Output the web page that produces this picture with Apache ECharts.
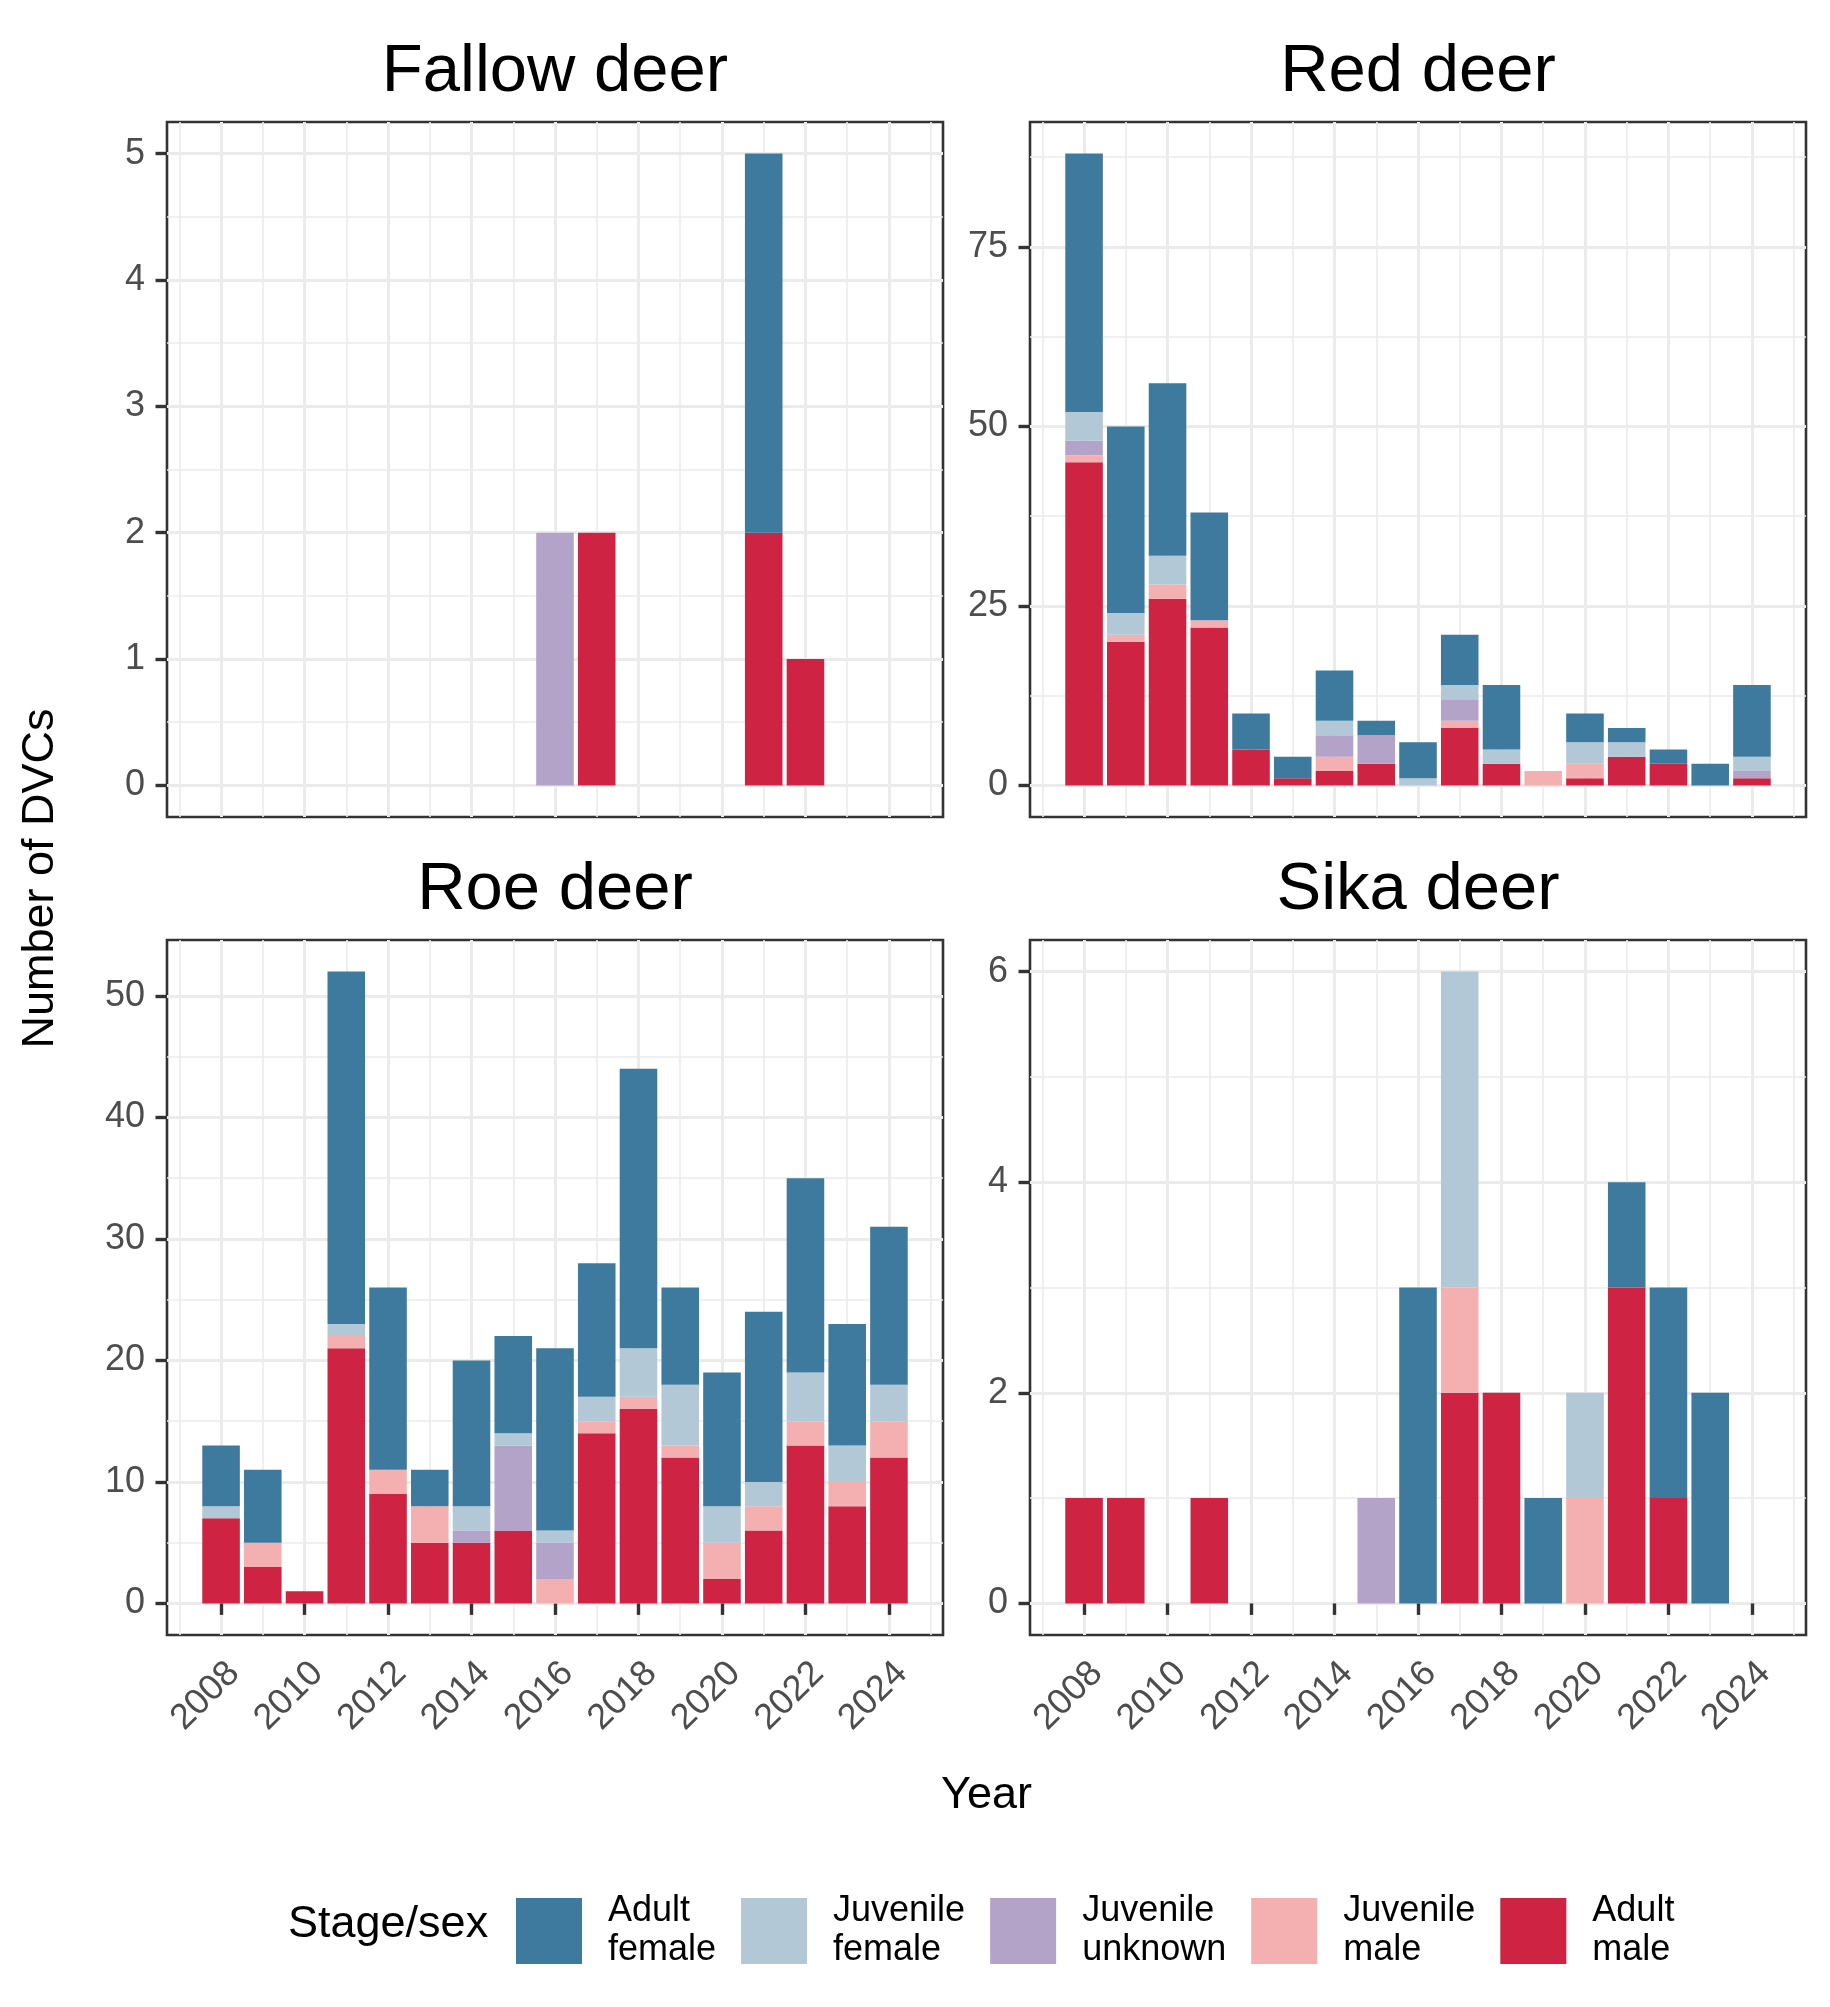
<!DOCTYPE html>
<html>
<head>
<meta charset="utf-8">
<script src="https://cdn.jsdelivr.net/npm/echarts@6/dist/echarts.min.js"></script>
<style>
html,body{margin:0;padding:0;background:#fff;}
#chart{width:1830px;height:2007px;}
</style>
</head>
<body>
<div id="chart"></div>
<script>
// ---------- data ----------
const years = [2008,2009,2010,2011,2012,2013,2014,2015,2016,2017,2018,2019,2020,2021,2022,2023,2024];
const xTickLabels = [2008,2010,2012,2014,2016,2018,2020,2022,2024];
const xMinorBreaks = [2007,2009,2011,2013,2015,2017,2019,2021,2023,2025];

const classNames = ['Adult female','Juvenile female','Juvenile unknown','Juvenile male','Adult male'];
const classColors = ['#3D7A9E','#B2C8D6','#B3A3C9','#F4B0B0','#CF2343'];

// Fallow deer
const fallowAdultMale       = [0,0,0,0,0,0,0,0,0,2,0,0,0,2,1,0,0];
const fallowJuvenileMale    = [0,0,0,0,0,0,0,0,0,0,0,0,0,0,0,0,0];
const fallowJuvenileUnknown = [0,0,0,0,0,0,0,0,2,0,0,0,0,0,0,0,0];
const fallowJuvenileFemale  = [0,0,0,0,0,0,0,0,0,0,0,0,0,0,0,0,0];
const fallowAdultFemale     = [0,0,0,0,0,0,0,0,0,0,0,0,0,3,0,0,0];
const fallowYTicks = [0,1,2,3,4,5];
const fallowYMinor = [0.5,1.5,2.5,3.5,4.5];

// Red deer
const redAdultMale       = [45,20,26,22,5,1,2,3,0,8,3,0,1,4,3,0,1];
const redJuvenileMale    = [1,1,2,1,0,0,2,0,0,1,0,2,2,0,0,0,0];
const redJuvenileUnknown = [2,0,0,0,0,0,3,4,0,3,0,0,0,0,0,0,1];
const redJuvenileFemale  = [4,3,4,0,0,0,2,0,1,2,2,0,3,2,0,0,2];
const redAdultFemale     = [36,26,24,15,5,3,7,2,5,7,9,0,4,2,2,3,10];
const redYTicks = [0,25,50,75];
const redYMinor = [12.5,37.5,62.5,87.5];

// Roe deer
const roeAdultMale       = [7,3,1,21,9,5,5,6,0,14,16,12,2,6,13,8,12];
const roeJuvenileMale    = [0,2,0,1,2,3,0,0,2,1,1,1,3,2,2,2,3];
const roeJuvenileUnknown = [0,0,0,0,0,0,1,7,3,0,0,0,0,0,0,0,0];
const roeJuvenileFemale  = [1,0,0,1,0,0,2,1,1,2,4,5,3,2,4,3,3];
const roeAdultFemale     = [5,6,0,29,15,3,12,8,15,11,23,8,11,14,16,10,13];
const roeYTicks = [0,10,20,30,40,50];
const roeYMinor = [5,15,25,35,45];

// Sika deer
const sikaAdultMale       = [1,1,0,1,0,0,0,0,0,2,2,0,0,3,1,0,0];
const sikaJuvenileMale    = [0,0,0,0,0,0,0,0,0,1,0,0,1,0,0,0,0];
const sikaJuvenileUnknown = [0,0,0,0,0,0,0,1,0,0,0,0,0,0,0,0,0];
const sikaJuvenileFemale  = [0,0,0,0,0,0,0,0,0,3,0,0,1,0,0,0,0];
const sikaAdultFemale     = [0,0,0,0,0,0,0,0,3,0,0,1,0,1,2,2,0];
const sikaYTicks = [0,2,4,6];
const sikaYMinor = [1,3,5];

// ---------- panels ----------
const FONT = "'Liberation Sans', Arial, Helvetica, sans-serif";
const panels = [
  {title:'Fallow deer', ticks:fallowYTicks, minor:fallowYMinor,
   stacks:[fallowAdultFemale,fallowJuvenileFemale,fallowJuvenileUnknown,fallowJuvenileMale,fallowAdultMale],
   left:167, top:122, bottom:false},
  {title:'Red deer', ticks:redYTicks, minor:redYMinor,
   stacks:[redAdultFemale,redJuvenileFemale,redJuvenileUnknown,redJuvenileMale,redAdultMale],
   left:1030, top:122, bottom:false},
  {title:'Roe deer', ticks:roeYTicks, minor:roeYMinor,
   stacks:[roeAdultFemale,roeJuvenileFemale,roeJuvenileUnknown,roeJuvenileMale,roeAdultMale],
   left:167, top:940, bottom:true},
  {title:'Sika deer', ticks:sikaYTicks, minor:sikaYMinor,
   stacks:[sikaAdultFemale,sikaJuvenileFemale,sikaJuvenileUnknown,sikaJuvenileMale,sikaAdultMale],
   left:1030, top:940, bottom:true}
];
const PW = 776, PH = 695;

// ggplot-like expansion (5% of data range) for limits
function expandLimits(lo, hi){ const d = (hi-lo)*0.05; return [lo-d, hi+d]; }
const bandLo = years[0]-0.5, bandHi = years[years.length-1]+0.5;
const xLim = expandLimits(years[0]-0.45, years[years.length-1]+0.45);

const grids = [], xAxes = [], yAxes = [], series = [], graphics = [];
const gridLine = (w)=>({show:true, lineStyle:{color:'#EBEBEB', width:w}});

panels.forEach((p, g) => {
  let maxTot = 0;
  years.forEach((y,i)=>{ let s=0; p.stacks.forEach(a=>s+=a[i]); maxTot=Math.max(maxTot,s); });
  const yLim = expandLimits(0, maxTot);

  // panel grid (border, gridlines, ticks, labels)
  const gPanel = grids.length;
  grids.push({left:p.left, top:p.top, width:PW, height:PH, show:true,
    borderColor:'#333333', borderWidth:2.6, backgroundColor:'#fff'});
  // bar grid: category band range of the x scale inside the panel
  const pxPerYear = PW/(xLim[1]-xLim[0]);
  const gBars = grids.length;
  grids.push({left:p.left + (bandLo-xLim[0])*pxPerYear, top:p.top,
    width:(bandHi-bandLo)*pxPerYear, height:PH, show:false});

  xAxes.push({type:'value', gridIndex:gPanel, position:'bottom', min:xLim[0], max:xLim[1],
    axisLine:{show:false},
    axisTick:{show:p.bottom, length:11.5, customValues:xTickLabels, lineStyle:{color:'#333333', width:3.4}},
    axisLabel:{show:p.bottom, customValues:xTickLabels, rotate:45, align:'right', verticalAlign:'top',
      margin:20, color:'#4D4D4D', fontSize:36, fontFamily:FONT, formatter:(v)=>String(v)},
    splitLine:gridLine(3)});
  xAxes.push({type:'value', gridIndex:gPanel, position:'top', min:xLim[0], max:xLim[1],
    axisLine:{show:false}, axisTick:{show:false, customValues:xMinorBreaks},
    axisLabel:{show:false}, splitLine:gridLine(1.6)});
  const xBar = xAxes.length;
  xAxes.push({type:'category', gridIndex:gBars, data:years.map(String), boundaryGap:true, show:false});

  yAxes.push({type:'value', gridIndex:gPanel, position:'left', min:yLim[0], max:yLim[1],
    axisLine:{show:false},
    axisTick:{show:true, length:11.5, customValues:p.ticks, lineStyle:{color:'#333333', width:3.4}},
    axisLabel:{show:true, customValues:p.ticks, margin:22, color:'#4D4D4D', fontSize:36, fontFamily:FONT},
    splitLine:gridLine(3)});
  yAxes.push({type:'value', gridIndex:gPanel, position:'right', min:yLim[0], max:yLim[1],
    axisLine:{show:false}, axisTick:{show:false, customValues:p.minor},
    axisLabel:{show:false}, splitLine:gridLine(1.6)});
  const yBar = yAxes.length;
  yAxes.push({type:'value', gridIndex:gBars, min:yLim[0], max:yLim[1], show:false, splitLine:{show:false}});

  // stacking order: bottom first (Adult male) ... top (Adult female)
  for (let c = classNames.length-1; c >= 0; c--) {
    series.push({type:'bar', name:classNames[c], stack:'s'+g, xAxisIndex:xBar, yAxisIndex:yBar,
      barWidth:'90%', itemStyle:{color:classColors[c]}, emphasis:{disabled:true},
      data: p.stacks[c].slice(), z:3});
  }

  graphics.push({type:'text', x:p.left+PW/2, y:p.top-49.5,
    style:{text:p.title, fontSize:67, fontFamily:FONT, fill:'#000', align:'center', verticalAlign:'middle'}});
});

graphics.push({type:'text', x:41, y:878.5, rotation:Math.PI/2,
  style:{text:'Number of DVCs', fontSize:45, fontFamily:FONT, fill:'#000', align:'center', verticalAlign:'middle'}});
graphics.push({type:'text', x:986.5, y:1796,
  style:{text:'Year', fontSize:45, fontFamily:FONT, fill:'#000', align:'center', verticalAlign:'middle'}});
graphics.push({type:'text', x:288, y:1925,
  style:{text:'Stage/sex', fontSize:45, fontFamily:FONT, fill:'#000', align:'left', verticalAlign:'middle'}});

const chart = echarts.init(document.getElementById('chart'), null, {renderer:'canvas'});
chart.setOption({
  animation:false,
  backgroundColor:'#fff',
  grid:grids, xAxis:xAxes, yAxis:yAxes, series:series,
  legend:{show:true, data:classNames, left:516, top:1892, orient:'horizontal', padding:0,
    itemWidth:66, itemHeight:66, itemGap:25, icon:'rect', selectedMode:false,
    formatter:(n)=>n.replace(' ','\n'),
    textStyle:{fontSize:36, fontFamily:FONT, color:'#000', lineHeight:39, padding:[0,0,0,21]}},
  graphic:graphics
});
</script>
</body>
</html>
